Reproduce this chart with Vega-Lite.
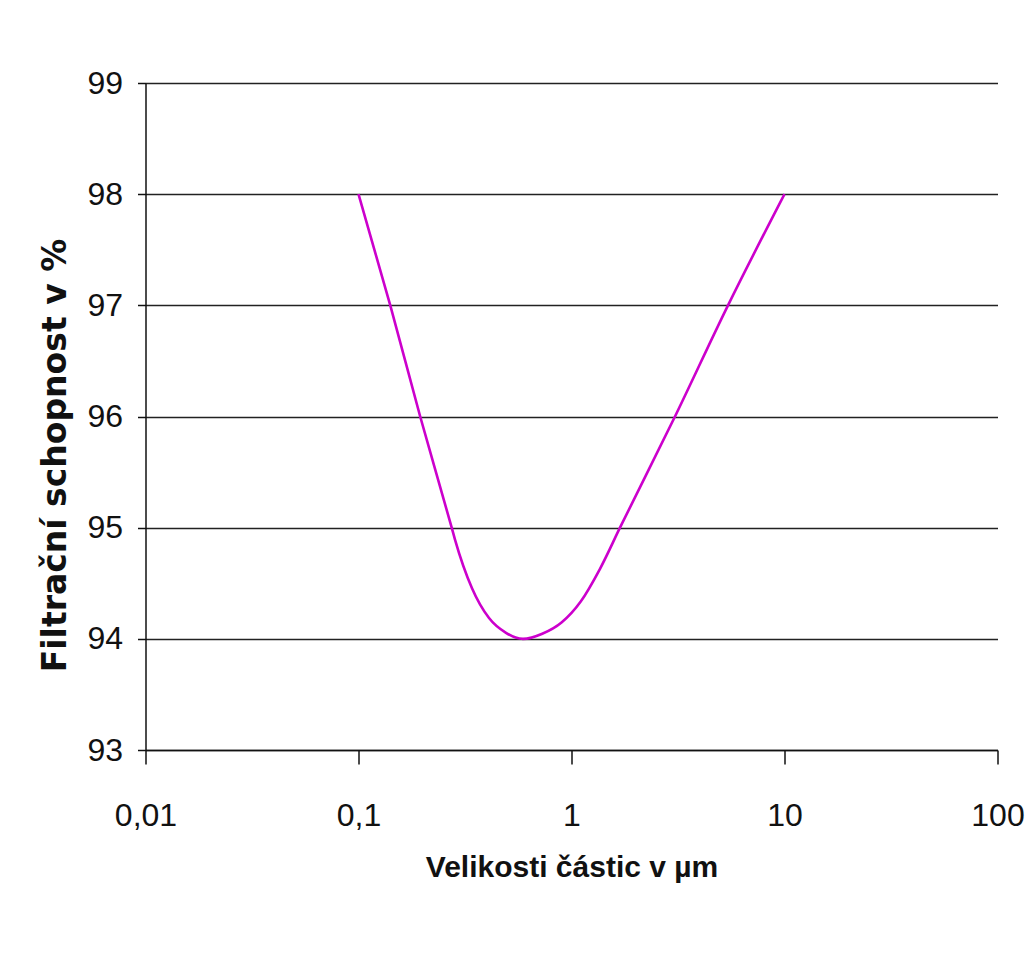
{
  "$schema": "https://vega.github.io/schema/vega-lite/v6.json",
  "autosize": "none",
  "width": 852,
  "height": 667,
  "padding": {"left": 145.5, "top": 83, "right": 37.5, "bottom": 219},
  "background": "white",
  "config": {
    "view": {"stroke": null},
    "axis": {
      "labelColor": "#111",
      "titleColor": "#111",
      "domainColor": "#111",
      "tickColor": "#111",
      "domainWidth": 1.5,
      "tickWidth": 1.5
    }
  },
  "data": {
    "values": [
      {"size": 0.1, "eff": 98.0},
      {"size": 0.141, "eff": 97.0},
      {"size": 0.1948, "eff": 96.0},
      {"size": 0.2739, "eff": 95.0},
      {"size": 0.2838, "eff": 94.893},
      {"size": 0.3411, "eff": 94.455},
      {"size": 0.41, "eff": 94.187},
      {"size": 0.4926, "eff": 94.054},
      {"size": 0.592, "eff": 94.0},
      {"size": 0.7291, "eff": 94.046},
      {"size": 0.8976, "eff": 94.147},
      {"size": 1.105, "eff": 94.336},
      {"size": 1.361, "eff": 94.63},
      {"size": 1.689, "eff": 95.0},
      {"size": 3.061, "eff": 96.0},
      {"size": 5.429, "eff": 97.0},
      {"size": 10.0, "eff": 98.0}
    ]
  },
  "mark": {"type": "line", "color": "#CC00CC", "strokeWidth": 2.6, "interpolate": "monotone"},
  "encoding": {
    "x": {
      "field": "size",
      "type": "quantitative",
      "scale": {"type": "log", "domain": [0.01, 100], "nice": false},
      "axis": {
        "title": "Velikosti částic v µm",
        "values": [0.01, 0.1, 1, 10, 100],
        "format": "~g",
        "labelExpr": "replace(datum.label, '.', ',')",
        "grid": false,
        "tickSize": 14,
        "labelFont": "Liberation Sans",
        "labelFontSize": 32,
        "labelBaseline": "alphabetic",
        "labelPadding": 61,
        "labelFlush": false,
        "labelOverlap": false,
        "titleFont": "Liberation Sans",
        "titleFontSize": 30,
        "titleFontWeight": "bold",
        "titleBaseline": "middle",
        "titleY": 117
      }
    },
    "y": {
      "field": "eff",
      "type": "quantitative",
      "scale": {"domain": [93, 99], "nice": false, "zero": false},
      "axis": {
        "title": "Filtrační schopnost v %",
        "values": [93, 94, 95, 96, 97, 98, 99],
        "grid": true,
        "gridColor": "#222",
        "gridWidth": 1.5,
        "gridOpacity": 1,
        "tickSize": 8,
        "labelFont": "Liberation Sans",
        "labelFontSize": 32,
        "labelPadding": 15,
        "titleFont": "DejaVu Sans",
        "titleFontSize": 33,
        "titleFontWeight": "bold",
        "titleAngle": 270,
        "titleBaseline": "middle",
        "titleAlign": "center",
        "titleX": -90,
        "titleY": 372
      }
    }
  }
}
